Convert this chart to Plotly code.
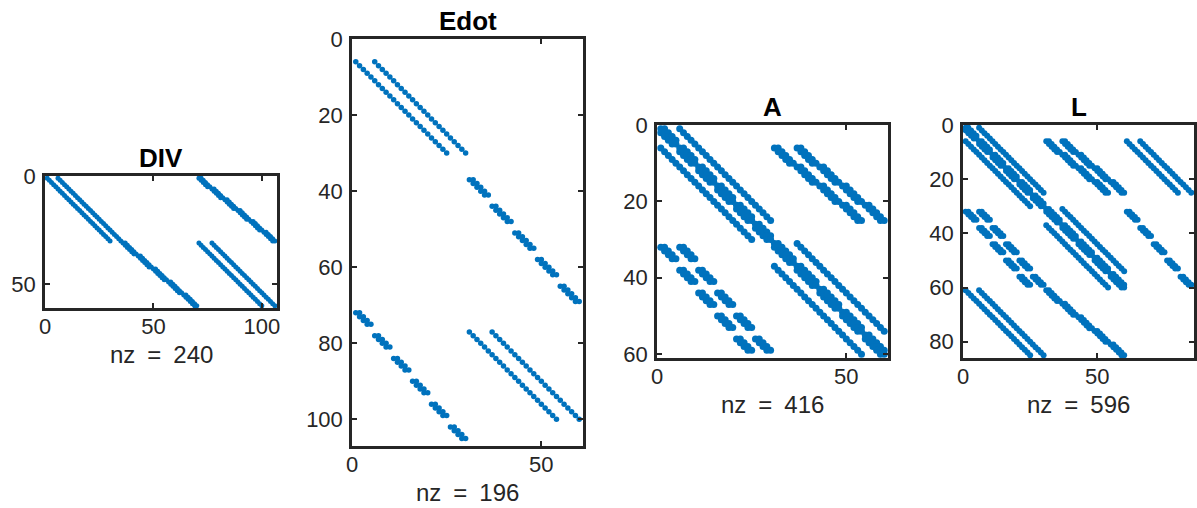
import plotly.graph_objects as go

W, H = 1197, 508

# Sparsity patterns.
# Each run: (first_row, first_col, run_length, repeats, row_shift, col_shift)
# A run is a diagonal stretch of nonzeros (row+1, col+1 per step); it may be
# repeated with a given shift of its first entry. Indices are 1-based.
DIV_shape = (60, 106)
DIV_runs = [
    (1, 1, 30, 1, 0, 0), (1, 6, 30, 1, 0, 0),
    (31, 36, 6, 5, 6, 7), (31, 37, 6, 5, 6, 7),
    (1, 71, 5, 6, 5, 6), (1, 72, 5, 6, 5, 6),
    (31, 71, 30, 1, 0, 0), (31, 77, 30, 1, 0, 0),
]

Edot_shape = (106, 60)
Edot_runs = [
    (6, 1, 25, 1, 0, 0), (6, 6, 25, 1, 0, 0),
    (37, 31, 5, 5, 7, 6), (37, 32, 5, 5, 7, 6),
    (72, 1, 4, 6, 6, 5), (72, 2, 4, 6, 6, 5),
    (77, 31, 24, 1, 0, 0), (77, 37, 24, 1, 0, 0),
]

A_shape = (60, 60)
A_runs = [
    (1, 1, 30, 1, 0, 0), (1, 6, 25, 1, 0, 0), (6, 1, 25, 1, 0, 0),
    (1, 2, 4, 6, 5, 5), (2, 1, 4, 6, 5, 5),
    (6, 31, 5, 4, 5, 6), (6, 32, 5, 4, 5, 6), (6, 37, 5, 4, 5, 6), (6, 38, 5, 4, 5, 6),
    (32, 1, 4, 5, 6, 5), (32, 2, 4, 5, 6, 5), (32, 6, 4, 5, 6, 5), (32, 7, 4, 5, 6, 5),
    (31, 31, 30, 1, 0, 0), (31, 32, 5, 5, 6, 6), (32, 31, 5, 5, 6, 6),
    (31, 37, 24, 1, 0, 0), (37, 31, 24, 1, 0, 0),
]

L_shape = (85, 85)
L_extra_runs = [
    (6, 61, 20, 1, 0, 0), (6, 66, 20, 1, 0, 0),
    (32, 61, 4, 5, 6, 5), (32, 62, 4, 5, 6, 5),
    (61, 1, 25, 1, 0, 0), (61, 6, 25, 1, 0, 0),
    (61, 31, 5, 5, 5, 6), (61, 32, 5, 5, 5, 6),
]
L_runs = A_runs + L_extra_runs

titles = ["DIV", "Edot", "A", "L"]
x_ticks = [[0, 50, 100], [0, 50], [0, 50], [0, 50]]
y_ticks = [[0, 50], [0, 20, 40, 60, 80, 100], [0, 20, 40, 60], [0, 20, 40, 60, 80]]


def expand(runs):
    pts = set()
    for r0, c0, n, reps, dr, dc in runs:
        for k in range(reps):
            for t in range(n):
                pts.add((r0 + k * dr + t, c0 + k * dc + t))
    pts = sorted(pts)
    return [p[1] for p in pts], [p[0] for p in pts]


mats = [(DIV_shape, DIV_runs), (Edot_shape, Edot_runs), (A_shape, A_runs), (L_shape, L_runs)]

# axes boxes in pixels (x0, x1, y0, y1)
boxes = [(45, 277, 176, 308), (352, 583, 39, 446), (657, 888, 125, 358), (963, 1194, 125, 358)]
msizes = [5, 5.5, 7, 6]

BLUE = "#0072BD"
AX = "#262626"
FONT = "Liberation Sans"
SP = "\u2002"


def px(x):
    return x / W


def py(y):
    return 1 - y / H


fig = go.Figure()
annotations = []
layout = {}
for i, ((shape, runs), box) in enumerate(zip(mats, boxes)):
    cols, rows = expand(runs)
    s = "" if i == 0 else str(i + 1)
    fig.add_trace(go.Scatter(x=cols, y=rows, mode="markers",
                             marker=dict(color=BLUE, size=msizes[i], line=dict(width=0)),
                             xaxis="x" + s, yaxis="y" + s, showlegend=False,
                             hoverinfo="skip"))
    x0, x1, y0, y1 = box
    m, n = shape
    common = dict(showline=True, linewidth=2.5, linecolor=AX, mirror="ticks",
                  ticks="inside", ticklen=5, tickwidth=2, tickcolor=AX,
                  showgrid=False, zeroline=False, automargin=False,
                  tickfont=dict(family=FONT, size=22, color=AX))
    layout["xaxis" + s] = dict(common, domain=[px(x0), px(x1)], range=[0, n + 1],
                               tickvals=x_ticks[i], anchor="y" + s,
                               ticklabelstandoff=-3)
    layout["yaxis" + s] = dict(common, domain=[py(y1), py(y0)], range=[m + 1, 0],
                               tickvals=y_ticks[i], anchor="x" + s,
                               ticklabelstandoff=2)
    cx = (x0 + x1) / 2
    annotations.append(dict(text="<b>%s</b>" % titles[i], x=px(cx), y=py(y0 - 18),
                            xref="paper", yref="paper", showarrow=False,
                            xanchor="center", yanchor="middle",
                            font=dict(family=FONT, size=26, color="black")))
    annotations.append(dict(text="nz%s=%s%d" % (SP, SP, len(cols)), x=px(cx),
                            y=py(y1 + 46),
                            xref="paper", yref="paper", showarrow=False,
                            xanchor="center", yanchor="middle",
                            font=dict(family=FONT, size=24, color=AX)))

fig.update_layout(width=W, height=H, margin=dict(l=0, r=0, t=0, b=0),
                  paper_bgcolor="white", plot_bgcolor="white",
                  annotations=annotations, **layout)
# remove the page's default body margin so the figure fills the window exactly
fig.write_html("out.html", config={"displayModeBar": False},
               post_script="document.body.style.margin='0';")
